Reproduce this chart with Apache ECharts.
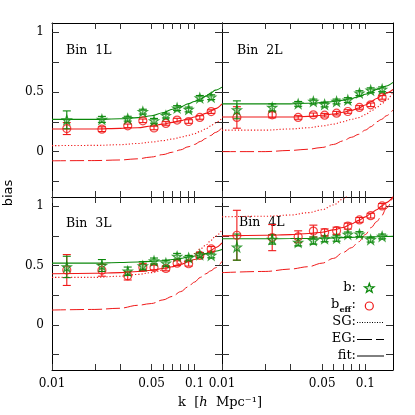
<!DOCTYPE html>
<html><head><meta charset="utf-8">
<script src="https://cdn.jsdelivr.net/npm/echarts@6/dist/echarts.min.js"></script>
<style>html,body{margin:0;padding:0;background:#fff}#c{width:415px;height:415px}</style>
</head><body><div id="c"></div>
<script>
// ---------- data ----------
const kPts = [0.0127, 0.0224, 0.034, 0.0434, 0.052, 0.063, 0.0755, 0.091, 0.109, 0.131];
const kCurve = [0.01, 0.02, 0.03, 0.04, 0.05, 0.06, 0.07, 0.08, 0.09, 0.1, 0.11, 0.12, 0.13, 0.14, 0.156];

// Bin 1L
const b1 = [0.266, 0.27, 0.276, 0.335, 0.258, 0.302, 0.365, 0.353, 0.45, 0.456];
const b1Err = [0.075, 0.025, 0.02, 0.02, 0.02, 0.02, 0.02, 0.02, 0.02, 0.02];
const beff1 = [0.193, 0.188, 0.216, 0.258, 0.198, 0.236, 0.264, 0.252, 0.286, 0.335];
const beff1Err = [0.05, 0.02, 0.015, 0.015, 0.015, 0.015, 0.015, 0.015, 0.015, 0.015];
const fitB1 = [0.27, 0.27, 0.275, 0.285, 0.30, 0.325, 0.355, 0.375, 0.40, 0.42, 0.44, 0.465, 0.49, 0.515, 0.54];
const fitE1 = [0.19, 0.19, 0.195, 0.20, 0.215, 0.23, 0.245, 0.26, 0.275, 0.29, 0.305, 0.32, 0.34, 0.36, 0.40];
const sg1 = [0.05, 0.052, 0.058, 0.068, 0.08, 0.092, 0.105, 0.12, 0.135, 0.15, 0.17, 0.19, 0.215, 0.24, 0.28];
const eg1 = [-0.077, -0.075, -0.07, -0.06, -0.045, -0.025, -0.005, 0.015, 0.04, 0.06, 0.085, 0.11, 0.135, 0.16, 0.20];

// Bin 2L
const b2 = [0.35, 0.37, 0.40, 0.42, 0.395, 0.42, 0.432, 0.49, 0.514, 0.522];
const b2Err = [0.075, 0.03, 0.02, 0.02, 0.02, 0.02, 0.02, 0.02, 0.02, 0.02];
const beff2 = [0.286, 0.308, 0.286, 0.308, 0.305, 0.322, 0.336, 0.37, 0.392, 0.454];
const beff2Err = [0.09, 0.025, 0.015, 0.015, 0.015, 0.015, 0.015, 0.015, 0.015, 0.015];
const fitB2 = [0.40, 0.40, 0.40, 0.405, 0.41, 0.42, 0.43, 0.445, 0.46, 0.48, 0.50, 0.52, 0.535, 0.55, 0.58];
const fitE2 = [0.29, 0.29, 0.29, 0.295, 0.305, 0.315, 0.33, 0.345, 0.365, 0.39, 0.42, 0.445, 0.47, 0.49, 0.52];
const sg2 = [0.18, 0.18, 0.19, 0.20, 0.215, 0.23, 0.25, 0.27, 0.285, 0.31, 0.34, 0.37, 0.40, 0.43, 0.50];
const eg2 = [0.0, 0.0, 0.01, 0.02, 0.035, 0.06, 0.09, 0.12, 0.145, 0.18, 0.21, 0.25, 0.27, 0.30, 0.35];

// Bin 3L
const b3 = [0.488, 0.50, 0.452, 0.497, 0.538, 0.52, 0.577, 0.565, 0.59, 0.585];
const b3Err = [0.09, 0.05, 0.035, 0.035, 0.025, 0.025, 0.025, 0.02, 0.02, 0.02];
const beff3 = [0.462, 0.46, 0.413, 0.485, 0.483, 0.475, 0.52, 0.515, 0.585, 0.64];
const beff3Err = [0.13, 0.05, 0.035, 0.03, 0.02, 0.02, 0.02, 0.02, 0.02, 0.02];
const fitB3 = [0.52, 0.52, 0.525, 0.53, 0.535, 0.54, 0.55, 0.56, 0.57, 0.58, 0.59, 0.60, 0.61, 0.62, 0.635];
const fitE3 = [0.43, 0.435, 0.44, 0.45, 0.46, 0.475, 0.49, 0.51, 0.53, 0.55, 0.575, 0.60, 0.625, 0.65, 0.69];
const sg3 = [0.40, 0.40, 0.41, 0.425, 0.44, 0.46, 0.49, 0.52, 0.55, 0.60, 0.64, 0.67, 0.71, 0.745, 0.80];
const eg3 = [0.125, 0.13, 0.14, 0.165, 0.18, 0.21, 0.24, 0.28, 0.32, 0.36, 0.40, 0.43, 0.455, 0.48, 0.535];

// Bin 4L
const b4 = [0.655, 0.72, 0.695, 0.71, 0.725, 0.73, 0.762, 0.765, 0.718, 0.745];
const b4Err = [0.11, 0.04, 0.03, 0.03, 0.025, 0.025, 0.02, 0.02, 0.02, 0.02];
const beff4 = [0.755, 0.735, 0.742, 0.79, 0.778, 0.793, 0.832, 0.884, 0.92, 1.002];
const beff4Err = [0.21, 0.11, 0.05, 0.05, 0.03, 0.03, 0.025, 0.02, 0.02, 0.02];
const fitB4 = [0.725, 0.725, 0.727, 0.728, 0.73, 0.732, 0.735, 0.737, 0.739, 0.74, 0.741, 0.742, 0.743, 0.744, 0.745];
const fitE4 = [0.75, 0.755, 0.76, 0.77, 0.78, 0.80, 0.82, 0.85, 0.88, 0.91, 0.94, 0.97, 1.0, 1.03, 1.08];
const sg4 = [0.91, 0.915, 0.925, 0.945, 0.97, 1.01, 1.06, 1.12, 1.18];
const eg4 = [0.44, 0.45, 0.47, 0.49, 0.52, 0.56, 0.61, 0.65, 0.70, 0.76, 0.82, 0.87, 0.92, 0.98, 1.08];

const binNames = ['Bin  1L', 'Bin  2L', 'Bin  3L', 'Bin  4L'];
const xTickVals = [0.01, 0.02, 0.03, 0.05, 0.06, 0.07, 0.08, 0.09, 0.1];
const xLabelVals = [0.01, 0.05, 0.1];
const xLabelText = ['0.01', '0.05', '0.1'];
const yTickVals = [-0.25, 0, 0.25, 0.5, 0.75, 1];
const yLabelVals = [0, 0.5, 1];
const yLabelText = ['0', '0.5', '1'];

// ---------- styling ----------
const GREEN = '#0b880b', RED = '#f01818';
const SERIF = 'DejaVu Serif';
const grids = [
  {left: 52, top: 23, width: 170, height: 174},
  {left: 222, top: 23, width: 171, height: 174},
  {left: 52, top: 197, width: 170, height: 173},
  {left: 222, top: 197, width: 171, height: 173}
];
const binPos = [[66, 50.5], [237, 50.8], [66, 223.3], [239, 223]];
const STAR = 'path://M0,-10L2.35,-3.24L9.51,-3.09L3.8,1.24L5.88,8.09L0,4L-5.88,8.09L-3.8,1.24L-9.51,-3.09L-2.35,-3.24Z';

const panels = [
  {b: b1, bErr: b1Err, e: beff1, eErr: beff1Err, fitB: fitB1, fitE: fitE1, sg: sg1, eg: eg1},
  {b: b2, bErr: b2Err, e: beff2, eErr: beff2Err, fitB: fitB2, fitE: fitE2, sg: sg2, eg: eg2},
  {b: b3, bErr: b3Err, e: beff3, eErr: beff3Err, fitB: fitB3, fitE: fitE3, sg: sg3, eg: eg3},
  {b: b4, bErr: b4Err, e: beff4, eErr: beff4Err, fitB: fitB4, fitE: fitE4, sg: sg4, eg: eg4}
];

function lookup(vals, texts, v) {
  for (let i = 0; i < vals.length; i++) if (Math.abs(vals[i] - v) < 1e-6 * Math.max(1, Math.abs(v)) + 1e-9) return texts[i];
  return String(v);
}

const frameLine = {show: true, onZero: false, lineStyle: {color: '#000', width: 1}};
const tickStyle = {color: '#333', width: 1};
const xAxes = [], yAxes = [], series = [];

grids.forEach((g, i) => {
  const bottomRow = i >= 2, leftCol = i % 2 === 0;
  ['bottom', 'top'].forEach(pos => {
    xAxes.push({
      type: 'log', logBase: 10, gridIndex: i, position: pos, min: 0.01, max: 0.156,
      axisLine: frameLine,
      axisTick: {show: true, inside: true, length: 6, customValues: xTickVals, lineStyle: tickStyle},
      axisLabel: {show: bottomRow && pos === 'bottom', customValues: xLabelVals, margin: 8,
        fontFamily: SERIF, fontSize: 12, color: '#000',
        formatter: v => lookup(xLabelVals, xLabelText, v)},
      splitLine: {show: false}, minorTick: {show: false}
    });
  });
  ['left', 'right'].forEach(pos => {
    yAxes.push({
      type: 'value', gridIndex: i, position: pos, min: -0.38, max: 1.077,
      axisLine: frameLine,
      axisTick: {show: true, inside: true, length: 7, customValues: yTickVals, lineStyle: tickStyle},
      axisLabel: {show: leftCol && pos === 'left', customValues: yLabelVals, margin: 8,
        fontFamily: SERIF, fontSize: 12, color: '#000',
        formatter: v => lookup(yLabelVals, yLabelText, v)},
      splitLine: {show: false}
    });
  });

  const p = panels[i];
  const xi = 2 * i, yi = 2 * i;
  const curve = (arr, color, type, w) => ({
    type: 'line', xAxisIndex: xi, yAxisIndex: yi, silent: true, showSymbol: false,
    smooth: 0.35, smoothMonotone: 'x', clip: true,
    data: arr.map((v, j) => [kCurve[j], v]),
    lineStyle: {color: color, width: w, type: type}, z: 2
  });
  series.push(curve(p.eg, RED, [14, 4], 1));
  series.push(curve(p.sg, RED, [1.2, 2], 1.1));
  series.push(curve(p.fitE, RED, 'solid', 1.1));
  series.push(curve(p.fitB, GREEN, 'solid', 1.1));

  const errSeries = (vals, errs, color) => ({
    type: 'custom', xAxisIndex: xi, yAxisIndex: yi, silent: true, clip: true, z: 3,
    data: vals.map((v, j) => [kPts[j], v, errs[j]]),
    encode: {x: 0, y: 1},
    renderItem: (params, api) => {
      const x = api.value(0), y = api.value(1), e = api.value(2);
      const t = api.coord([x, y + e]), b = api.coord([x, y - e]);
      const st = {stroke: color, lineWidth: 1.1};
      const w = 4;
      return {type: 'group', children: [
        {type: 'line', shape: {x1: t[0], y1: t[1], x2: b[0], y2: b[1]}, style: st},
        {type: 'line', shape: {x1: t[0] - w, y1: t[1], x2: t[0] + w, y2: t[1]}, style: st},
        {type: 'line', shape: {x1: b[0] - w, y1: b[1], x2: b[0] + w, y2: b[1]}, style: st}
      ]};
    }
  });
  series.push(errSeries(p.e, p.eErr, RED));
  series.push(errSeries(p.b, p.bErr, GREEN));

  series.push({
    type: 'scatter', xAxisIndex: xi, yAxisIndex: yi, silent: true, z: 4,
    symbol: 'circle', symbolSize: 8,
    data: p.e.map((v, j) => [kPts[j], v]),
    itemStyle: {color: 'rgba(255,255,255,0)', borderColor: RED, borderWidth: 1.2}
  });
  series.push({
    type: 'scatter', xAxisIndex: xi, yAxisIndex: yi, silent: true, z: 5,
    symbol: STAR, symbolSize: 9,
    data: p.b.map((v, j) => [kPts[j], v]),
    itemStyle: {color: 'rgba(120,190,120,0.3)', borderColor: GREEN, borderWidth: 1.2}
  });
});

// ---------- text & legend graphics ----------
function starPts(cx, cy, R) {
  const pts = [], r = R * 0.4;
  for (let i = 0; i < 10; i++) {
    const a = -Math.PI / 2 + i * Math.PI / 5, rr = i % 2 ? r : R;
    pts.push([cx + rr * Math.cos(a), cy + rr * Math.sin(a)]);
  }
  return pts;
}
const txt = (x, y, text, extra) => Object.assign({type: 'text', x: x, y: y, silent: true,
  style: Object.assign({text: text, fill: '#000', font: '13px "DejaVu Serif"', align: 'right', verticalAlign: 'middle'}, extra || {})});

const graphics = [];
binNames.forEach((n, i) => graphics.push(txt(binPos[i][0], binPos[i][1], n, {align: 'left', font: '12.5px "DejaVu Serif"'})));
graphics.push({type: 'text', x: 9, y: 193, rotation: Math.PI / 2, silent: true,
  style: {text: 'bias', fill: '#000', font: '13px "DejaVu Sans"', align: 'center', verticalAlign: 'middle'}});
graphics.push({type: 'text', x: 220, y: 403, silent: true,
  style: {text: '{n|k  [}{i|h}{n|  Mpc⁻¹]}', align: 'center', verticalAlign: 'middle',
    rich: {n: {font: '13px "DejaVu Serif"', fill: '#000'}, i: {font: 'italic 13px "DejaVu Serif"', fill: '#000'}}}});
// legend
graphics.push(txt(356, 288, 'b:'));
graphics.push({type: 'polygon', silent: true, shape: {points: starPts(369.3, 288.3, 5)},
  style: {fill: 'rgba(120,190,120,0.3)', stroke: GREEN, lineWidth: 1.2}});
graphics.push(txt(331, 305, 'b', {align: 'left'}));
graphics.push(txt(339.5, 309.5, 'eff', {align: 'left', font: 'bold 8px "DejaVu Serif"'}));
graphics.push(txt(351.5, 305, ':', {align: 'left'}));
graphics.push({type: 'circle', silent: true, shape: {cx: 369.3, cy: 306, r: 4},
  style: {fill: 'none', stroke: RED, lineWidth: 1.2}});
graphics.push(txt(356, 322, 'SG:'));
graphics.push({type: 'line', silent: true, shape: {x1: 357, y1: 322.5, x2: 384, y2: 322.5},
  style: {stroke: '#000', lineWidth: 1, lineDash: [1, 1.5]}});
graphics.push(txt(356, 339, 'EG:'));
graphics.push({type: 'line', silent: true, shape: {x1: 357, y1: 339.5, x2: 384, y2: 339.5},
  style: {stroke: '#000', lineWidth: 1, lineDash: [15, 4]}});
graphics.push(txt(356, 355.5, 'fit:'));
graphics.push({type: 'line', silent: true, shape: {x1: 357, y1: 356, x2: 384, y2: 356},
  style: {stroke: '#000', lineWidth: 1}});

const chart = echarts.init(document.getElementById('c'), null, {renderer: 'canvas'});
chart.setOption({
  animation: false,
  backgroundColor: '#fff',
  grid: grids,
  xAxis: xAxes,
  yAxis: yAxes,
  series: series,
  graphic: graphics
});
</script>
</body></html>
